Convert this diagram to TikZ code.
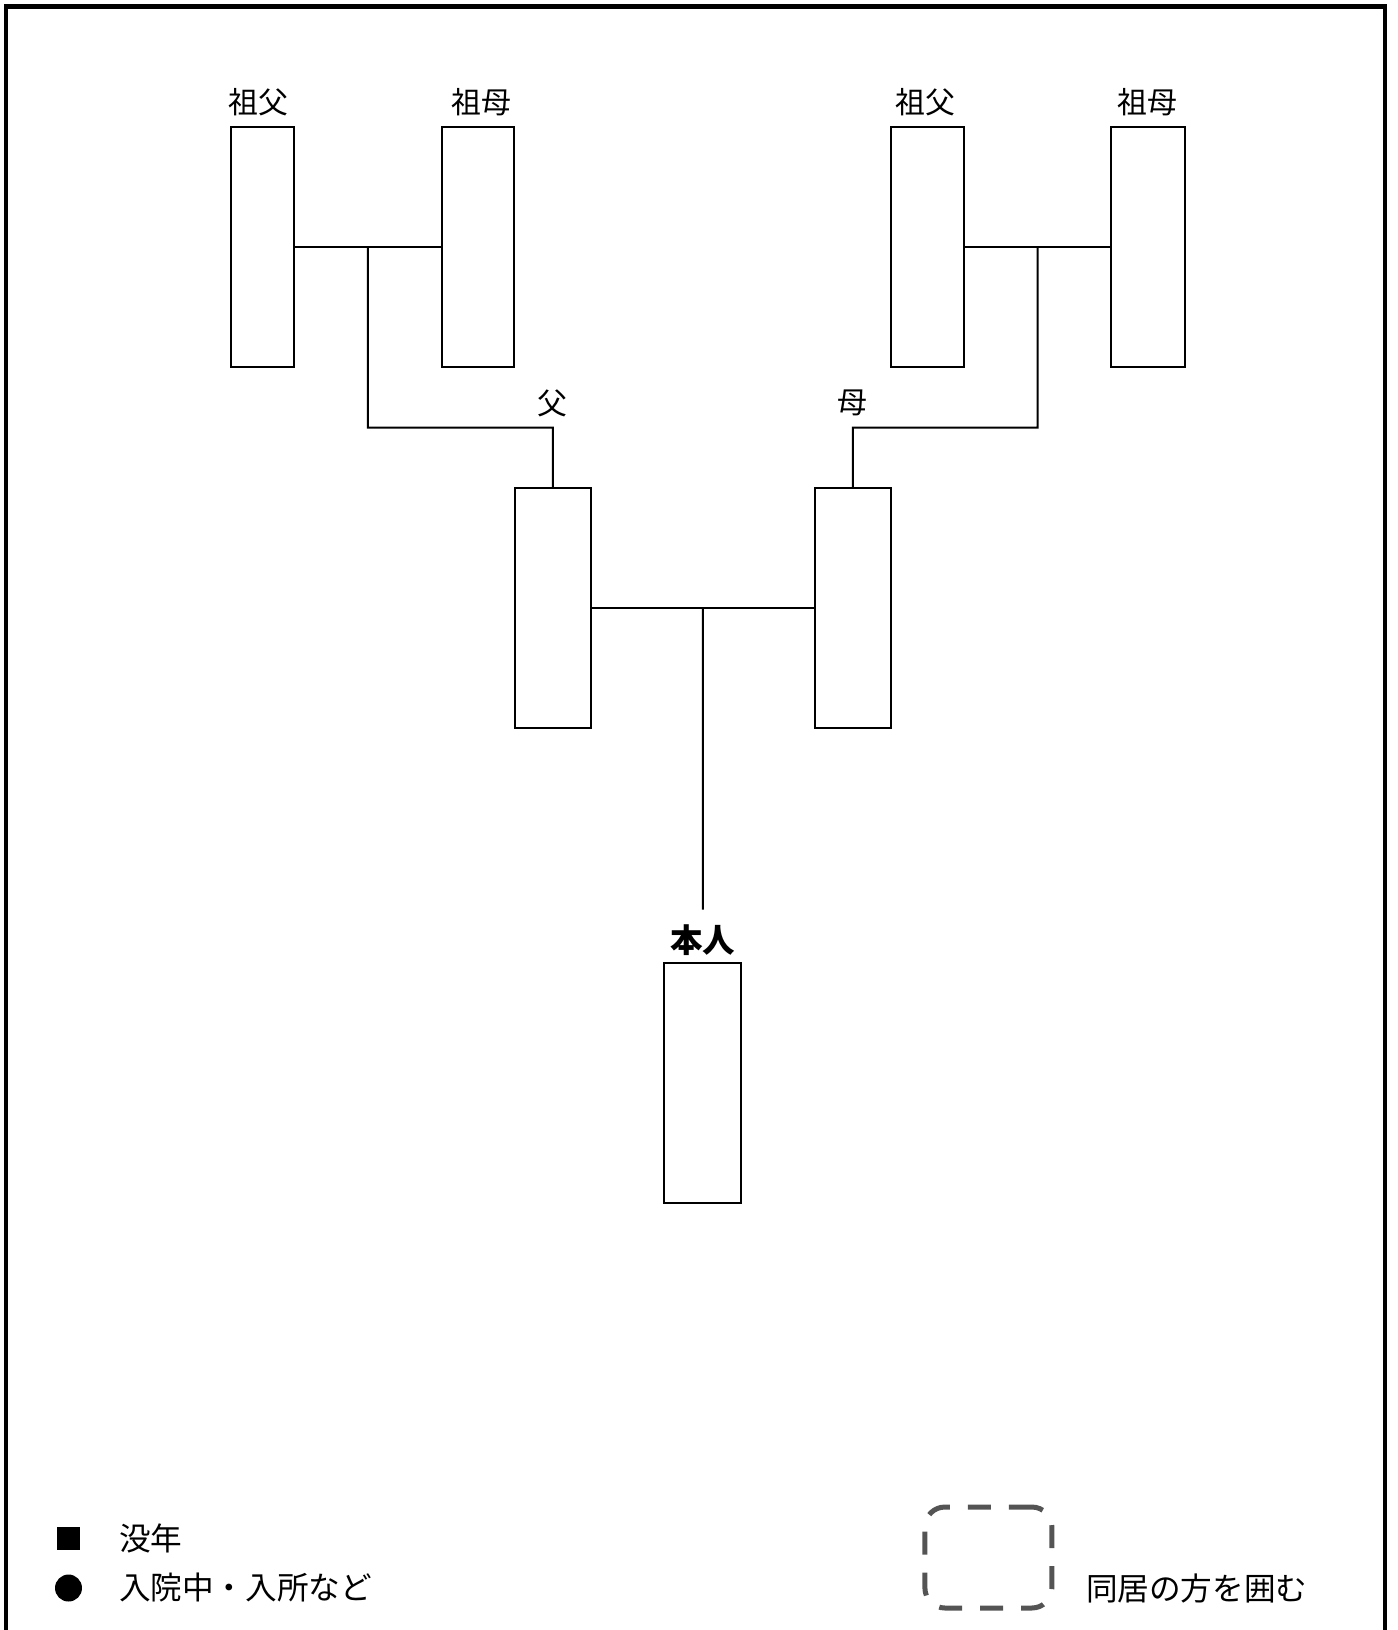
\documentclass[tikz,border=0pt]{standalone}
\usepackage{fontspec}
\setmainfont{Noto Sans CJK JP}
\usetikzlibrary{calc}

\begin{document}
\begin{tikzpicture}[x=0.02cm, y=-0.02cm, line width=0.04cm,
  person/.style={draw, rectangle, minimum height=4.8cm, inner sep=0pt},
  lbl/.style={inner sep=0pt, font=\fontsize{17pt}{20pt}\selectfont},
  legtext/.style={anchor=west, inner sep=0pt, font=\fontsize{18pt}{22pt}\selectfont},
  cobox/.style={draw=black!67, line width=0.1cm, rounded corners=0.4cm,
    dash pattern=on 0.46cm off 0.36cm, minimum width=2.54cm,
    minimum height=2.02cm, inner sep=0pt}]
  \useasboundingbox (0,0) rectangle (1397,1630);
  % outer frame (bottom edge lies off the page)
  \draw[line width=0.09cm] (6,1660) -- (6,6.5) -- (1385,6.5) -- (1385,1660);
  % grandparents
  \node[person, minimum width=1.26cm] (gf1) at (262.8, 247) {};
  \node[person, minimum width=1.46cm] (gm1) at (478, 247) {};
  \node[person, minimum width=1.46cm] (gf2) at (927.5, 247) {};
  \node[person, minimum width=1.48cm] (gm2) at (1148, 247) {};
  \node[lbl] (lgf1) at (258, 101.7) {祖父};
  \node[lbl] (lgm1) at (481, 101.7) {祖母};
  \node[lbl] (lgf2) at (925, 101.7) {祖父};
  \node[lbl] (lgm2) at (1147.5, 101.7) {祖母};
  % parents
  \node[person, minimum width=1.52cm] (fa) at (552.8, 608.2) {};
  \node[person, minimum width=1.52cm] (mo) at (852.8, 608.2) {};
  \node[lbl] (lfa) at (552.8, 403) {父};
  \node[lbl] (lmo) at (852.8, 403) {母};
  % self
  \node[person, minimum width=1.54cm] (me) at (702.7, 1083) {};
  \node[lbl, font=\fontsize{18.5pt}{22pt}\selectfont\bfseries] (lme) at (702.7, 940) {本人};
  % couple lines and drops
  \coordinate (m1) at ($(gf1.east)!0.5!(gm1.west)$);
  \coordinate (m2) at ($(gf2.east)!0.5!(gm2.west)$);
  \coordinate (m3) at ($(fa.east)!0.5!(mo.west)$);
  \coordinate (j1) at (367.9, 427.7);
  \coordinate (j2) at (1037.5, 427.7);
  \coordinate (j3) at (702.9, 909.5);
  \draw (gf1.east) -- (gm1.west);
  \draw (gf2.east) -- (gm2.west);
  \draw (fa.east) -- (mo.west);
  \draw (m1) -- (j1) -| (fa.north);
  \draw (m2) -- (j2) -| (mo.north);
  \draw (m3) -- (j3);
  % legend
  \node[fill=black, minimum size=0.46cm, inner sep=0pt] (ksq) at (68.5, 1538.5) {};
  \node[fill=black, circle, minimum size=0.54cm, inner sep=0pt] (kci) at (68.5, 1588) {};
  \node[legtext] (tsq) at (118, 1538) {没年};
  \node[legtext] (tci) at (118, 1587) {入院中・入所など};
  \node[cobox] (kco) at (988.4, 1557.5) {};
  \node[legtext] (tco) at (1085, 1588) {同居の方を囲む};
\end{tikzpicture}
\end{document}
